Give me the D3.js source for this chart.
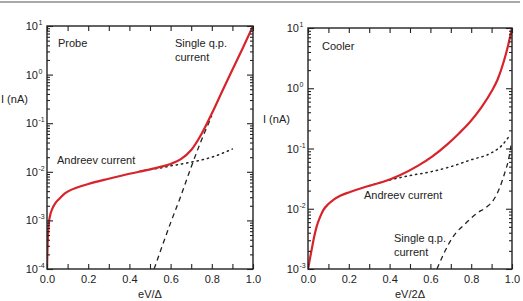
<!DOCTYPE html>
<html>
<head>
<meta charset="utf-8">
<script src="https://cdn.jsdelivr.net/npm/d3@7"></script>
<style>
  body { margin: 0; background: #fff; }
  text { font-family: "Liberation Sans", Arial, sans-serif; fill: #222; }
</style>
</head>
<body>
<div id="chart"></div>
<script>
// x ticks shared by both panels
const xTicks = [0, 0.1, 0.2, 0.3, 0.4, 0.5, 0.6, 0.7, 0.8, 0.9, 1.0];
const xLabels = [0, 0.2, 0.4, 0.6, 0.8, 1.0];

// Probe panel (I in nA)
const probeTotalX = [0, 0.003, 0.008, 0.015, 0.025, 0.04, 0.06, 0.08, 0.1, 0.15, 0.2, 0.3, 0.4, 0.5, 0.55, 0.6, 0.65, 0.7, 0.75, 0.8, 0.85, 0.9, 0.95, 1.0];
const probeTotalI = [1e-4, 3.2e-4, 7.9e-4, 1.26e-3, 1.7e-3, 2.24e-3, 2.8e-3, 3.4e-3, 3.9e-3, 4.8e-3, 5.6e-3, 7.2e-3, 9.1e-3, 1.12e-2, 1.26e-2, 1.45e-2, 1.82e-2, 2.8e-2, 6.0e-2, 0.158, 0.45, 1.26, 3.5, 10];
const probeAndreevX = [0.45, 0.5, 0.55, 0.6, 0.7, 0.8, 0.9];
const probeAndreevI = [1.02e-2, 1.12e-2, 1.2e-2, 1.32e-2, 1.58e-2, 2.0e-2, 2.95e-2];
const probeSingleX = [0.52, 0.6, 0.65, 0.7, 0.75, 0.8];
const probeSingleI = [1e-4, 8.9e-4, 3.2e-3, 1.26e-2, 4.5e-2, 0.141];

// Cooler panel (I in nA)
const coolerTotalX = [0, 0.008, 0.018, 0.03, 0.042, 0.06, 0.075, 0.1, 0.124, 0.16, 0.206, 0.28, 0.369, 0.45, 0.54, 0.61, 0.68, 0.74, 0.794, 0.85, 0.9, 0.93, 0.96, 0.98, 1.0];
const coolerTotalI = [1e-3, 1.4e-3, 2.1e-3, 3.4e-3, 5.0e-3, 7.4e-3, 9.5e-3, 1.2e-2, 1.4e-2, 1.66e-2, 1.9e-2, 2.3e-2, 2.8e-2, 3.6e-2, 5.2e-2, 7.4e-2, 0.115, 0.178, 0.275, 0.48, 0.89, 1.41, 2.8, 5.0, 10];
const coolerAndreevX = [0.3, 0.4, 0.5, 0.6, 0.7, 0.8, 0.9, 0.95, 0.985];
const coolerAndreevI = [2.4e-2, 3.0e-2, 3.55e-2, 4.1e-2, 5.0e-2, 6.5e-2, 8.5e-2, 0.112, 0.158];
const coolerSingleX = [0.632, 0.71, 0.77, 0.83, 0.876, 0.91, 0.94, 0.966, 0.982, 0.995];
const coolerSingleI = [1e-3, 3.4e-3, 5.6e-3, 8.5e-3, 1.07e-2, 1.41e-2, 2.24e-2, 4.1e-2, 6.3e-2, 0.112];

const width = 523, height = 301;
const svg = d3.select("#chart").append("svg")
  .attr("width", width).attr("height", height);

// thin rule across the top
svg.append("line").attr("x1", 0).attr("x2", 520).attr("y1", 2).attr("y2", 2)
  .attr("stroke", "#555").attr("stroke-width", 1);

const panels = [
  { id: "probe", left: 47, right: 253, top: 26, bottom: 269, yMin: 1e-4, yMax: 10,
    xTitle: "eV/\u0394", yLabelX: 1, yLabelY: 103,
    total: [probeTotalX, probeTotalI], andreev: [probeAndreevX, probeAndreevI], single: [probeSingleX, probeSingleI],
    notes: [
      { t: ["Probe"], x: 58, y: 47 },
      { t: ["Single q.p.", "current"], x: 175, y: 47 },
      { t: ["Andreev current"], x: 57, y: 164 }
    ] },
  { id: "cooler", left: 308, right: 512, top: 28, bottom: 269, yMin: 1e-3, yMax: 10,
    xTitle: "eV/2\u0394", yLabelX: 263, yLabelY: 123,
    total: [coolerTotalX, coolerTotalI], andreev: [coolerAndreevX, coolerAndreevI], single: [coolerSingleX, coolerSingleI],
    notes: [
      { t: ["Cooler"], x: 322, y: 50 },
      { t: ["Andreev current"], x: 364, y: 199 },
      { t: ["Single q.p.", "current"], x: 394, y: 242 }
    ] }
];

panels.forEach(p => {
  const x = d3.scaleLinear().domain([0, 1]).range([p.left, p.right]);
  const y = d3.scaleLog().domain([p.yMin, p.yMax]).range([p.bottom, p.top]);
  const g = svg.append("g");

  // log ticks: majors at decades, minors at 2..9
  const lo = Math.round(Math.log10(p.yMin)), hi = Math.round(Math.log10(p.yMax));
  const yTicks = [];
  for (let e = lo; e <= hi; e++) {
    for (let m = 1; m <= 9; m++) {
      const v = m * Math.pow(10, e);
      if (v <= p.yMax * 1.0001) yTicks.push(v);
    }
  }
  const isMajor = v => Math.abs(Math.log10(v) - Math.round(Math.log10(v))) < 1e-6;

  // curves, clipped to plot area
  const clipId = "clip-" + p.id;
  g.append("clipPath").attr("id", clipId).append("rect")
    .attr("x", p.left).attr("y", p.top).attr("width", p.right - p.left).attr("height", p.bottom - p.top);
  const line = d3.line().curve(d3.curveMonotoneX).x(d => x(d[0])).y(d => y(d[1]));
  const pts = s => s[0].map((v, i) => [v, s[1][i]]);
  const curves = g.append("g").attr("clip-path", `url(#${clipId})`);
  curves.append("path").datum(pts(p.andreev)).attr("d", line)
    .attr("fill", "none").attr("stroke", "#222").attr("stroke-width", 1.5)
    .attr("stroke-dasharray", "1.3,4").attr("stroke-linecap", "round");
  curves.append("path").datum(pts(p.single)).attr("d", line)
    .attr("fill", "none").attr("stroke", "#222").attr("stroke-width", 1.3)
    .attr("stroke-dasharray", "5,4");
  curves.append("path").datum(pts(p.total)).attr("d", line)
    .attr("fill", "none").attr("stroke", "#d8232a").attr("stroke-width", 2.2);

  // x axes (bottom with labels, top ticks only), ticks inward
  const xb = g.append("g").attr("transform", `translate(0,${p.bottom})`)
    .call(d3.axisBottom(x).tickValues(xTicks).tickSizeInner(-5).tickSizeOuter(0).tickPadding(6)
      .tickFormat(d => xLabels.some(v => Math.abs(v - d) < 1e-9) ? d.toFixed(1) : ""));
  g.append("g").attr("transform", `translate(0,${p.top})`)
    .call(d3.axisTop(x).tickValues(xTicks).tickSizeInner(-5).tickSizeOuter(0).tickFormat(""));

  // y axes, left and right, ticks inward
  const yl = g.append("g").attr("transform", `translate(${p.left},0)`)
    .call(d3.axisLeft(y).tickValues(yTicks).tickSizeOuter(0).tickFormat(""));
  yl.selectAll(".tick line").attr("x2", d => isMajor(d) ? 6 : 3);
  const yr = g.append("g").attr("transform", `translate(${p.right},0)`)
    .call(d3.axisRight(y).tickValues(yTicks).tickSizeOuter(0).tickFormat(""));
  yr.selectAll(".tick line").attr("x2", d => isMajor(d) ? -6 : -3);

  g.selectAll(".domain").remove();
  g.selectAll(".tick line").attr("stroke", "#222").attr("stroke-width", 1.1);
  xb.selectAll(".tick text").style("font-size", "11px")
    .style("font-family", "'Liberation Sans', Arial, sans-serif").attr("fill", "#222");

  // frame
  g.append("rect").attr("x", p.left).attr("y", p.top)
    .attr("width", p.right - p.left).attr("height", p.bottom - p.top)
    .attr("fill", "none").attr("stroke", "#222").attr("stroke-width", 1.4);

  // y tick labels as 10^n
  yTicks.filter(isMajor).forEach(v => {
    const e = Math.round(Math.log10(v));
    g.append("text").attr("x", p.left - 9).attr("y", y(v) + 4)
      .attr("text-anchor", "end").style("font-size", "11px").text("10");
    g.append("text").attr("x", p.left - 8.5).attr("y", y(v) - 1)
      .style("font-size", "7px").text(e < 0 ? "-" + Math.abs(e) : e);
  });

  // axis titles
  g.append("text").attr("x", (p.left + p.right) / 2).attr("y", 298)
    .attr("text-anchor", "middle").style("font-size", "11px").text(p.xTitle);
  g.append("text").attr("x", p.yLabelX).attr("y", p.yLabelY)
    .style("font-size", "11px").text("I (nA)");

  // annotations
  p.notes.forEach(n => {
    const t = g.append("text").attr("x", n.x).attr("y", n.y).style("font-size", "11px");
    n.t.forEach((s, i) => t.append("tspan").attr("x", n.x).attr("dy", i ? 14 : 0).text(s));
  });
});
</script>
</body>
</html>
